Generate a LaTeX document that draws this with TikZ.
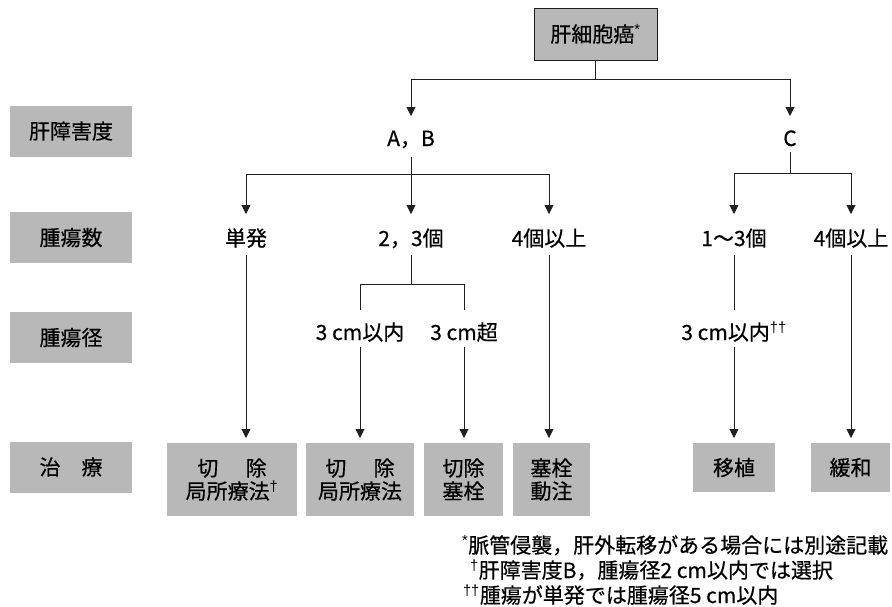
\documentclass[tikz,border=0pt]{standalone}
\usepackage{fontspec}
\setmainfont{Noto Sans CJK JP}[FakeBold=0.5]
\newfontfamily\markfont{Liberation Sans}
\newcommand{\mk}[1]{\textsuperscript{\markfont #1}}
\usetikzlibrary{arrows.meta}
\definecolor{boxgray}{gray}{0.72}
\definecolor{linecol}{gray}{0.12}
\begin{document}
\begin{tikzpicture}[x=1pt,y=-1pt,
  every node/.style={inner sep=0pt, outer sep=0pt},
  txt/.style={font=\fontsize{21}{23}\selectfont},
  gbox/.style={fill=boxgray, txt, align=center},
  lbl/.style={gbox, minimum width=122pt, minimum height=51pt},
  lv1/.style={txt, anchor=base, text height=30pt, text depth=11pt},
  lv2/.style={txt, anchor=base, text height=32pt, text depth=9pt},
  lv3/.style={txt, anchor=base, text height=30pt, text depth=7pt},
  conn/.style={draw=linecol, line width=0.9pt},
  arr/.style={conn, -{Triangle[width=9pt,length=9pt]}},
  note/.style={txt, anchor=base west}
]
\useasboundingbox (0,0) rectangle (892,606);

% left category labels
\node[lbl] (l1) at (71,131) {肝障害度};
\node[lbl] (l2) at (71,237.5) {腫瘍数};
\node[lbl] (l3) at (71,337.5) {腫瘍径};
\node[lbl] (l4) at (71,467) {治　療};

% top
\node[gbox, draw=linecol, line width=0.8pt, minimum width=123pt, minimum height=52pt] (top) at (595.5,34) {肝細胞癌\mk{*}};

% level 1
\node[lv1] (ab) at (411,146) {A，B};
\node[lv1, text depth=6pt] (c) at (790,146) {C};

% level 2
\node[lv2] (dan) at (246,246) {単発};
\node[lv2] (n23) at (411,246) {2，3個};
\node[lv2] (n4a) at (549,246) {4個以上};
\node[lv2] (n13) at (734,246) {1～3個};
\node[lv2] (n4b) at (851,246) {4個以上};

% level 3
\node[lv3] (c3a) at (360,340) {3 cm以内};
\node[lv3] (c3b) at (464,340) {3 cm超};
\node[lv3] (c3c) at (734,340) {3 cm以内\mk{††}};

% treatments
\node[gbox, minimum width=130pt, minimum height=73pt] (t1) at (232,479.5) {切\hspace{1.3em}除\\局所療法\mk{†}};
\node[gbox, minimum width=108pt, minimum height=73pt] (t2) at (360,479.5) {切\hspace{1.3em}除\\局所療法};
\node[gbox, minimum width=79pt, minimum height=73pt] (t3) at (463.5,479.5) {切除\\塞栓};
\node[gbox, minimum width=77pt, minimum height=73pt] (t4) at (551.5,479.5) {塞栓\\動注};
\node[gbox, minimum width=82pt, minimum height=49pt] (t5) at (734,467.5) {移植};
\node[gbox, minimum width=79pt, minimum height=49pt] (t6) at (850.5,467.5) {緩和};

% connectors level 0 -> 1
\draw[arr] (top.south) -- ++(0,19) -| (ab.north);
\draw[arr] (top.south) -- ++(0,19) -| (c.north);

% level 1 -> 2
\draw[arr] (ab.south) -- ++(0,17) -| (dan.north);
\draw[arr] (ab.south) -- (n23.north);
\draw[arr] (ab.south) -- ++(0,17) -| (n4a.north);
\draw[arr] (c.south) -- ++(0,21) -| (n13.north);
\draw[arr] (c.south) -- ++(0,21) -| (n4b.north);

% level 2 -> 3
\draw[conn] (n23.south) -- ++(0,29) -| (c3a.north);
\draw[conn] (n23.south) -- ++(0,29) -| (c3b.north);
\draw[conn] (n13.south) -- (c3c.north);

% to treatments
\draw[arr, shorten >=5pt] (dan.south) -- (dan.south |- t1.north);
\draw[arr, shorten >=5pt] (c3a.south) -- (c3a.south |- t2.north);
\draw[arr, shorten >=5pt] (c3b.south) -- (c3b.south |- t3.north);
\draw[arr, shorten >=5pt] (n4a.south) -- (n4a.south |- t4.north);
\draw[arr, shorten >=5pt] (c3c.south) -- (c3c.south |- t5.north);
\draw[arr, shorten >=5pt] (n4b.south) -- (n4b.south |- t6.north);

% footnotes
\node[note] (f1) at (462,553) {\mk{*}脈管侵襲，肝外転移がある場合には別途記載};
\node[note] (f2) at (470,578) {\mk{†}肝障害度B，腫瘍径2 cm以内では選択};
\node[note] (f3) at (463,603) {\mk{††}腫瘍が単発では腫瘍径5 cm以内};
\end{tikzpicture}
\end{document}
